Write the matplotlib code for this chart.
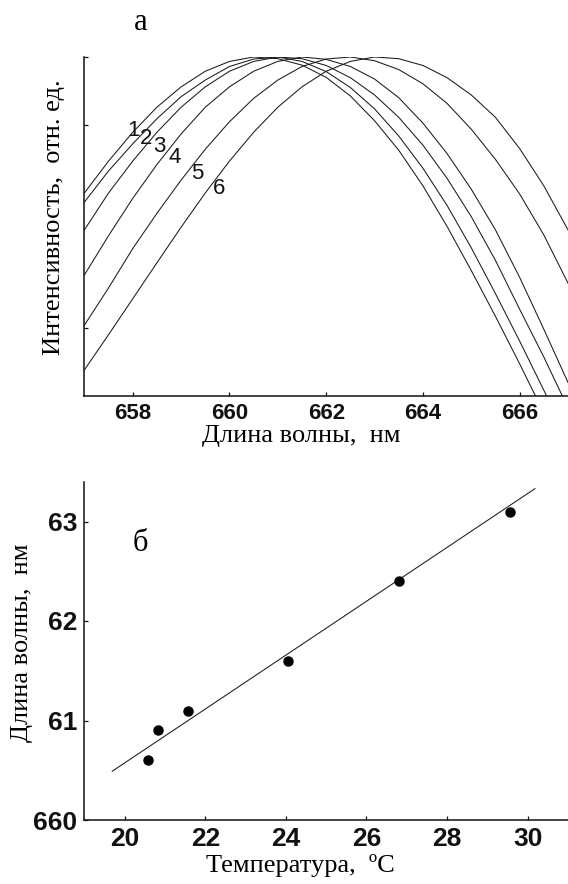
import matplotlib
matplotlib.use('Agg')
import matplotlib.pyplot as plt

# ---------------- data: panel a (spectra) ----------------
wavelength = [657.0, 657.5, 658.0, 658.5, 659.0, 659.5, 660.0, 660.5, 661.0, 661.5,
              662.0, 662.5, 663.0, 663.5, 664.0, 664.5, 665.0, 665.5, 666.0, 666.5, 667.0]
curve1 = [0.599, 0.693, 0.778, 0.852, 0.912, 0.958, 0.987, 1.000, 0.995, 0.976, 0.940,
          0.885, 0.812, 0.725, 0.620, 0.500, 0.370, 0.235, 0.095, -0.050, -0.20]
curve2 = [0.572, 0.664, 0.744, 0.818, 0.883, 0.932, 0.972, 0.994, 1.000, 0.987, 0.957,
          0.910, 0.847, 0.767, 0.672, 0.562, 0.437, 0.302, 0.162, 0.017, -0.13]
curve3 = [0.490, 0.599, 0.693, 0.778, 0.852, 0.912, 0.958, 0.987, 1.000, 0.995, 0.975,
          0.939, 0.888, 0.822, 0.740, 0.642, 0.529, 0.400, 0.256, 0.115, -0.035]
curve4 = [0.357, 0.473, 0.583, 0.683, 0.773, 0.852, 0.912, 0.958, 0.987, 1.000, 0.993,
          0.972, 0.935, 0.880, 0.805, 0.715, 0.610, 0.490, 0.350, 0.197, 0.040]
curve5 = [0.209, 0.319, 0.435, 0.539, 0.637, 0.728, 0.809, 0.878, 0.932, 0.972, 0.994,
          1.000, 0.989, 0.963, 0.921, 0.863, 0.787, 0.698, 0.596, 0.475, 0.333]
curve6 = [0.077, 0.181, 0.287, 0.393, 0.498, 0.599, 0.693, 0.778, 0.852, 0.912, 0.958,
          0.987, 1.000, 0.995, 0.975, 0.939, 0.888, 0.822, 0.730, 0.620, 0.490]
curve_labels = ['1', '2', '3', '4', '5', '6']
label_x = [658.02, 658.28, 658.55, 658.86, 659.34, 659.78]
label_y = [0.782, 0.760, 0.736, 0.704, 0.657, 0.613]
xticks_a = [658, 660, 662, 664, 666]
yticks_a = [0.2, 0.8, 1.0]

# ---------------- data: panel b (peak vs temperature) ----------------
temperature = [20.57, 20.82, 21.57, 24.06, 26.81, 29.55]
peak_nm = [660.60, 660.90, 661.10, 661.60, 662.40, 663.10]
fit_t = [19.69, 30.18]
fit_nm = [660.49, 663.33]
xticks_b = [20, 22, 24, 26, 28, 30]
yticks_b = [660, 661, 662, 663]
yticklabels_b = ['660', '61', '62', '63']

W, H = 568, 884
fig = plt.figure(figsize=(W / 100, H / 100), dpi=100)

serif = 'Liberation Serif'
sans = 'Liberation Sans'
lc = '#1a1a1a'

def frac(l, t, r, b):
    return [l / W, 1 - b / H, (r - l) / W, (b - t) / H]

def style(ax, fs):
    for s in ['top', 'right']:
        ax.spines[s].set_visible(False)
    for s in ['left', 'bottom']:
        ax.spines[s].set_linewidth(1.1)
        ax.spines[s].set_color('#111111')
    ax.tick_params(direction='in', length=3, width=0.9, pad=5, colors='#111111')
    for lab in ax.get_xticklabels() + ax.get_yticklabels():
        lab.set_fontfamily(sans)
        lab.set_fontweight('bold')
        lab.set_fontsize(fs)

# ---- panel a ----
ax1 = fig.add_axes(frac(84.4, 57, 568, 396))
for c in [curve1, curve2, curve3, curve4, curve5, curve6]:
    ax1.plot(wavelength, c, color=lc, lw=0.75)
for t, x, y in zip(curve_labels, label_x, label_y):
    ax1.text(x, y, t, fontsize=16, family=sans, ha='center', va='center', color='#111111')
ax1.set_xlim(657, 667)
ax1.set_ylim(0, 1.0)
ax1.set_xticks(xticks_a)
ax1.set_yticks(yticks_a)
ax1.set_yticklabels([])
style(ax1, 16)
ax1.set_xlabel('Длина волны,  нм', family=serif, fontsize=19)
ax1.xaxis.set_label_coords(0.449, -0.086)
ax1.set_ylabel('Интенсивность,  отн. ед.', family=serif, fontsize=19)
ax1.yaxis.set_label_coords(-0.040, 0.527)
fig.text(141 / W, 1 - 22 / H, 'а', family=serif, fontsize=22, ha='center', va='center')

# ---- panel b ----
ax2 = fig.add_axes(frac(84.4, 481.7, 568, 820))
ax2.plot(fit_t, fit_nm, color=lc, lw=0.75)
ax2.plot(temperature, peak_nm, 'o', color='black', ms=6.5)
ax2.set_xlim(19, 31)
ax2.set_ylim(660, 663.4)
ax2.set_xticks(xticks_b)
ax2.set_yticks(yticks_b)
ax2.set_yticklabels(yticklabels_b)
style(ax2, 19)
ax2.set_xlabel('Температура,  ºС', family=serif, fontsize=19)
ax2.xaxis.set_label_coords(0.446, -0.100)
ax2.set_ylabel('Длина волны,  нм', family=serif, fontsize=19)
ax2.yaxis.set_label_coords(-0.106, 0.525)
ax2.text(20.4, 662.78, 'б', family=serif, fontsize=22, ha='center', va='center')

fig.savefig('out.png', dpi=100)
